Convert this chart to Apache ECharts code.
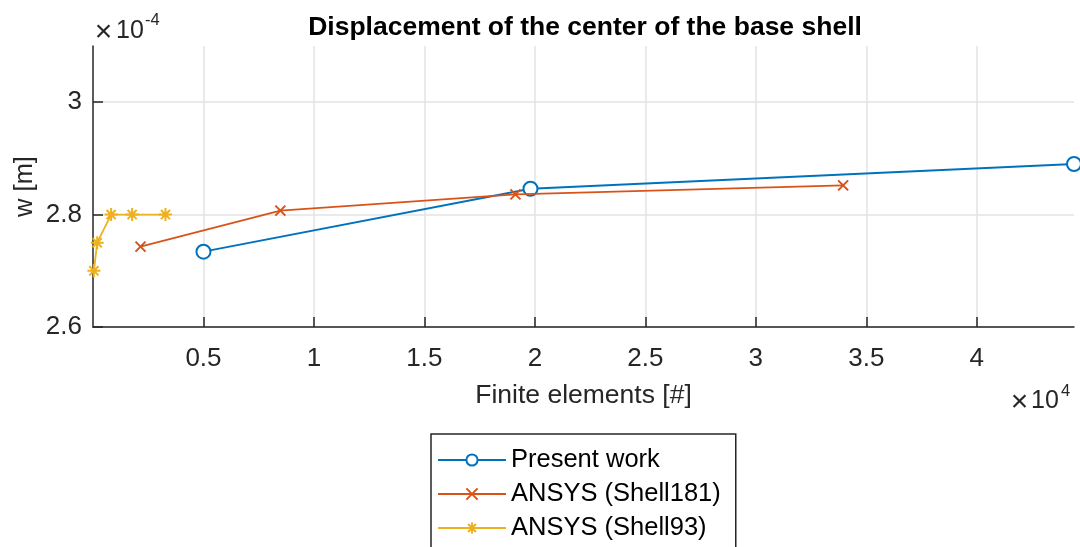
<!DOCTYPE html>
<html>
<head>
<meta charset="utf-8">
<script src="https://cdn.jsdelivr.net/npm/echarts@6/dist/echarts.min.js"></script>
<style>html,body{margin:0;padding:0;background:#fff}#c{width:1080px;height:547px}</style>
</head>
<body>
<div id="c"></div>
<script>
// x in units of 10^4 finite elements, y in units of 10^-4 m
const presentX = [0.5, 1.98, 4.44];
const presentY = [2.734, 2.846, 2.890];
const shell181X = [0.215, 0.848, 1.912, 3.395];
const shell181Y = [2.743, 2.807, 2.836, 2.852];
const shell93X = [0.004, 0.019, 0.082, 0.177, 0.328];
const shell93Y = [2.70, 2.75, 2.80, 2.80, 2.80];
const xTicks = [0.5, 1, 1.5, 2, 2.5, 3, 3.5, 4];
const yTicks = [2.6, 2.8, 3.0];
const seriesNames = ['Present work', 'ANSYS (Shell181)', 'ANSYS (Shell93)'];

const FONT = "'Liberation Sans', Arial, Helvetica, sans-serif";
const TXT = '#262626';
const pairs = (xs, ys) => xs.map((x, i) => [x, ys[i]]);
const X_PATH = 'path://M0 0L10 10M10 0L0 10';
const STAR_PATH = 'path://M5 0L5 10M0 5L10 5M1.5 1.5L8.5 8.5M8.5 1.5L1.5 8.5';

function txt(x, y, s, size, align) {
  return {type: 'text', x: x, y: y, silent: true, style: {
    text: s, fill: TXT, fontFamily: FONT, fontSize: size,
    textAlign: align || 'left', textVerticalAlign: 'middle'
  }};
}

const chart = echarts.init(document.getElementById('c'), null, {renderer: 'canvas'});
chart.setOption({
  animation: false,
  backgroundColor: '#fff',
  title: {
    text: 'Displacement of the center of the base shell',
    left: 580, top: 9, textAlign: 'center',
    textStyle: {fontFamily: FONT, fontSize: 26.5, fontWeight: 'bold', color: '#000'}
  },
  grid: {left: 93, right: 6, top: 46, bottom: 220},
  xAxis: {
    type: 'value', min: 0, max: 4.44,
    name: 'Finite elements [#]', nameLocation: 'middle', nameGap: 55, nameMoveOverlap: false,
    nameTextStyle: {fontFamily: FONT, fontSize: 26.5, color: TXT},
    axisLine: {show: true, onZero: false, lineStyle: {color: TXT, width: 1.5}},
    axisTick: {show: true, inside: true, length: 10, customValues: xTicks, lineStyle: {color: TXT, width: 1.5}},
    axisLabel: {customValues: xTicks, margin: 19, fontFamily: FONT, fontSize: 26, color: TXT,
      formatter: v => String(v)},
    splitLine: {show: true, lineStyle: {color: '#e3e3e3', width: 1.5}}
  },
  yAxis: {
    type: 'value', min: 2.6, max: 3.1,
    name: 'w [m]', nameLocation: 'middle', nameGap: 55, nameRotate: 90, nameMoveOverlap: false,
    nameTextStyle: {fontFamily: FONT, fontSize: 25.5, color: TXT},
    axisLine: {show: true, onZero: false, lineStyle: {color: TXT, width: 1.5}},
    axisTick: {show: true, inside: true, length: 10, customValues: yTicks, lineStyle: {color: TXT, width: 1.5}},
    axisLabel: {customValues: yTicks, margin: 11, fontFamily: FONT, fontSize: 26, color: TXT,
      formatter: v => String(Math.round(v * 10) / 10)},
    splitLine: {show: true, lineStyle: {color: '#e3e3e3', width: 1.5}}
  },
  legend: {
    orient: 'vertical', left: 431, top: 434, height: 200,
    padding: [12, 15, 20, 6], itemGap: 6, itemWidth: 68, itemHeight: 14,
    borderColor: TXT, borderWidth: 1.5, backgroundColor: '#fff', borderRadius: 0,
    textStyle: {fontFamily: FONT, fontSize: 25.5, color: '#000', lineHeight: 28},
    data: seriesNames
  },
  graphic: [
    txt(103.5, 33, '×', 30, 'center'),
    txt(116, 31, '10', 25),
    txt(145, 20, '-4', 16.5),
    txt(1019.5, 403, '×', 30, 'center'),
    txt(1031, 401, '10', 25),
    txt(1061, 391, '4', 16.5)
  ],
  series: [
    {
      name: seriesNames[0], type: 'line', data: pairs(presentX, presentY),
      symbol: 'emptyCircle', symbolSize: 14, color: '#0072BD',
      lineStyle: {color: '#0072BD', width: 1.8},
      itemStyle: {color: '#0072BD', borderWidth: 2}, clip: false, z: 3
    },
    {
      name: seriesNames[1], type: 'line', data: pairs(shell181X, shell181Y),
      symbol: X_PATH, symbolSize: 10, color: '#D95319',
      lineStyle: {color: '#D95319', width: 1.8},
      itemStyle: {color: '#D95319', borderColor: '#D95319', borderWidth: 2}, z: 4
    },
    {
      name: seriesNames[2], type: 'line', data: pairs(shell93X, shell93Y),
      symbol: STAR_PATH, symbolSize: 13, color: '#EDB120',
      lineStyle: {color: '#EDB120', width: 1.8},
      itemStyle: {color: '#EDB120', borderColor: '#EDB120', borderWidth: 2}, clip: false, z: 5
    }
  ]
});
</script>
</body>
</html>
